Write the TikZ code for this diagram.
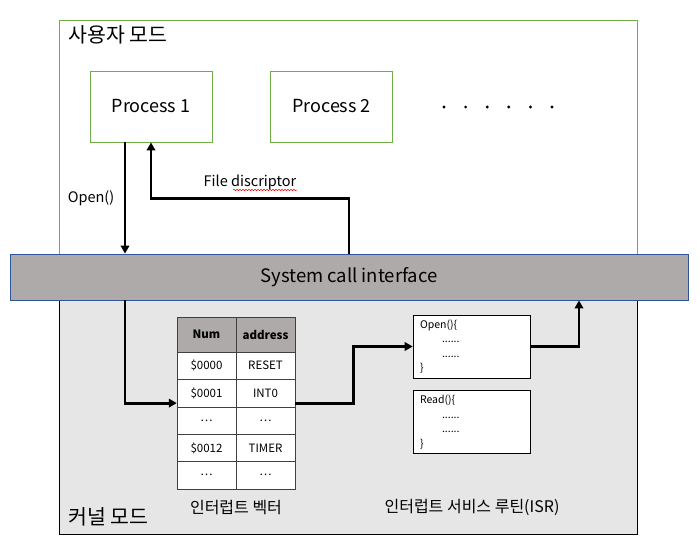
\documentclass[tikz,border=0pt]{standalone}
\usepackage{fontspec}
\setmainfont{Noto Sans CJK KR}
\usetikzlibrary{arrows.meta,decorations.pathmorphing}
\definecolor{modegreen}{HTML}{70AD47}
\definecolor{barblue}{HTML}{2F5597}
\definecolor{bargray}{HTML}{AEAAAA}
\definecolor{kernelgray}{HTML}{E7E6E6}
\begin{document}
\begin{tikzpicture}[x=1pt,y=-1pt,
  proc/.style={draw=modegreen,line width=0.8pt,minimum width=122pt,minimum height=71pt,font=\fontsize{18}{20}\selectfont},
  cell/.style={draw=black!75,fill=white,minimum width=59pt,minimum height=27.4pt,inner sep=0pt,font=\fontsize{11.5}{13}\selectfont},
  isr/.style={draw,fill=white,line width=0.6pt,minimum height=63pt,text width=103pt,inner xsep=7pt,align=left,font=\fontsize{10.5}{14.5}\selectfont},
  arr/.style={line width=2.8pt,-{Triangle[length=8pt,width=8.5pt]}},
  lbl/.style={font=\fontsize{14.5}{16}\selectfont},
  mode/.style={anchor=west,font=\fontsize{20.5}{22}\selectfont}]
\useasboundingbox (0,0) rectangle (699,546);
% user and kernel areas
\draw[fill=kernelgray,line width=0.8pt] (59,254) rectangle (637,534);
\draw[modegreen,line width=0.8pt] (59,254) |- (637,20) -- (637,254);
\node[mode] (umode) at (65,35) {사용자 모드};
\node[mode] (kmode) at (65,517) {커널 모드};
% processes
\node[proc] (p1) at (151,106.5) {Process 1};
\node[proc] (p2) at (331.5,106.5) {Process 2};
\foreach \k in {0,...,5}
  \fill (444+21.6*\k,107) circle (1.6pt);
% system call bar
\node[draw=barblue,fill=bargray,line width=0.8pt,minimum width=678pt,minimum height=46pt,font=\fontsize{18.5}{20}\selectfont] (sci) at (349,277) {System call interface};
% interrupt vector table
\node[cell,fill=bargray,minimum height=35pt,font=\fontsize{11.5}{13}\selectfont\bfseries] (h1) at (206.5,334.5) {Num};
\node[cell,fill=bargray,minimum height=35pt,font=\fontsize{11.5}{13}\selectfont\bfseries] (h2) at (265.5,334.5) {address};
\foreach \n/\a [count=\i] in {\$0000/RESET,\$0001/INT0,\dots/\dots,\$0012/TIMER,\dots/\dots}{
  \node[cell] (n\i) at (206.5,338.3+27.4*\i) {\n};
  \node[cell] (a\i) at (265.5,338.3+27.4*\i) {\a};
}
\node[font=\fontsize{16}{18}\selectfont] (vec) at (236,508) {인터럽트 벡터};
% service routines
\node[isr] (isr1) at (471.5,346.5) {Open()\{\\\hspace*{22pt}......\\\hspace*{22pt}......\\\}};
\node[isr] (isr2) at (471.5,422) {Read()\{\\\hspace*{22pt}......\\\hspace*{22pt}......\\\}};
\node[font=\fontsize{16}{18}\selectfont] (isrl) at (472,507) {인터럽트 서비스 루틴(ISR)};
% calls
\coordinate (oa) at ([xshift=-26pt]p1.south);
\draw[arr] (oa) -- (oa |- sci.north) node[midway,left=6pt,lbl] {Open()};
\draw[arr] (sci.north) -- ++(0,-55) -| node[pos=0.25,above=4pt,lbl] (fd) {File discriptor} (p1.south);
\draw[red,line width=0.5pt,decorate,decoration={snake,amplitude=0.7pt,segment length=3pt}] (233,190) -- (297,190);
\draw[arr] (oa |- sci.south) |- ([yshift=-10pt]n2.west);
\draw[arr] ([yshift=-10pt]a2.east) -- ++(58,0) |- (isr1.west);
\draw[arr] (isr1.east) -| ([xshift=230pt]sci.south);
\end{tikzpicture}
\end{document}
